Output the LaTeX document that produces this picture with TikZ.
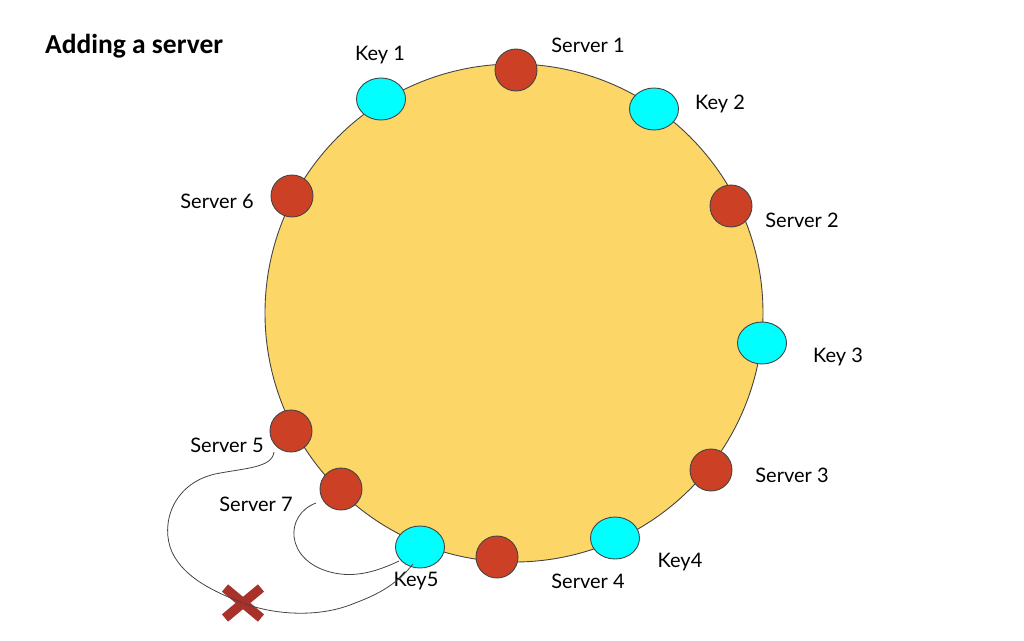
\documentclass[tikz,border=0pt]{standalone}
\usepackage{fontspec}
\setmainfont{Lato}
\newfontfamily\titlefont{Carlito}
\definecolor{ringfill}{HTML}{FCD768}
\definecolor{srvfill}{HTML}{CC4125}
\definecolor{keyfill}{HTML}{00FFFF}
\definecolor{edgegray}{HTML}{444444}
\definecolor{crossred}{HTML}{A8322A}
\tikzset{
  ring/.style={circle, draw=edgegray, line width=0.9pt, fill=ringfill, minimum size=498pt, inner sep=0pt},
  srv/.style={circle, draw=edgegray, line width=0.9pt, fill=srvfill, minimum size=42pt, inner sep=0pt},
  keyn/.style={ellipse, draw=edgegray, line width=0.9pt, fill=keyfill, minimum width=49pt, minimum height=42pt, inner sep=0pt},
  lbl/.style={font=\fontsize{20}{24}\selectfont, text=black, inner sep=0pt},
  link/.style={draw=edgegray, line width=0.8pt},
  crossarm/.style={draw=crossred, line width=9.5pt}
}
\usetikzlibrary{shapes.geometric}
\begin{document}
\begin{tikzpicture}[x=1pt,y=-1pt]
\useasboundingbox (0,0) rectangle (1024,640);
\node[ring] (ring) at (514,313) {};
% servers
\node[srv] (s1) at (516,70) {};
\node[srv] (s2) at (731,206) {};
\node[srv] (s3) at (711,470) {};
\node[srv] (s4) at (497,557) {};
\node[srv] (s5) at (291,431) {};
\node[srv] (s6) at (292,196) {};
\node[srv] (s7) at (341,489) {};
% keys
\node[keyn] (k1) at (381,99) {};
\node[keyn] (k2) at (654,109) {};
\node[keyn] (k3) at (762,343) {};
\node[keyn] (k4) at (615,538) {};
\node[keyn] (k5) at (420,547) {};
% title
\node[inner sep=0pt, anchor=west, font=\titlefont\bfseries\fontsize{27.5}{32}\selectfont] (title) at (45,46) {Adding a server};
% labels
\node[lbl] (ls1) at (588,45) {Server 1};
\node[lbl] (lk1) at (380,55) {Key 1};
\node[lbl] (lk2) at (720,104) {Key 2};
\node[lbl] (ls2) at (802,220) {Server 2};
\node[lbl] (lk3) at (838,357) {Key 3};
\node[lbl] (ls3) at (792,475) {Server 3};
\node[lbl] (lk4) at (680,562) {Key4};
\node[lbl] (ls4) at (588,581) {Server 4};
\node[lbl] (lk5) at (416,581) {Key5};
\node[lbl] (ls7) at (256,504) {Server 7};
\node[lbl] (ls5) at (227,445) {Server 5};
\node[lbl] (ls6) at (217,201) {Server 6};
% cross
\coordinate (xc) at (243,603);
\draw[crossarm] (225,588) -- (261,618);
\draw[crossarm] (225,618) -- (261,588);
\node[inner sep=0pt, minimum size=2pt] (xmark) at (xc) {};
% curves
\coordinate (c5a) at (274,452);
\coordinate (c7a) at (316,503);
\coordinate (k5b) at (413,564);
\coordinate (k5l) at (399,561);
\draw[link] (c5a) .. controls (272,468) and (245,468) .. (215,474)
  .. controls (172,484) and (160,525) .. (172,552)
  .. controls (184,578) and (215,592) .. (xmark);
\draw[link] (xmark) .. controls (275,615) and (320,618) .. (355,603)
  .. controls (385,592) and (400,580) .. (k5b);
\draw[link] (c7a) .. controls (284,515) and (285,560) .. (330,572)
  .. controls (356,579) and (380,570) .. (k5l);
\end{tikzpicture}
\end{document}
